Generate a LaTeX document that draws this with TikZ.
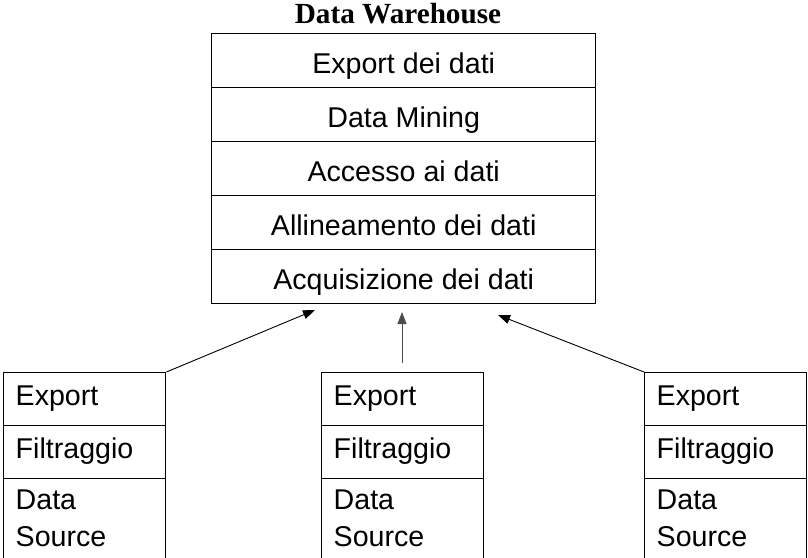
\documentclass[tikz,border=0pt]{standalone}
\usepackage{fontspec}
\setmainfont{Liberation Serif}
\setsansfont{Liberation Sans}
\usetikzlibrary{arrows.meta}
\tikzset{
  boxfont/.style={font=\sffamily\fontsize{28.6}{36.4}\selectfont},
  layer/.style={draw, line width=1.4pt, minimum width=384pt, minimum height=54pt,
    inner sep=0pt, text height=26pt, text depth=0pt, boxfont, anchor=north west},
  srcrow/.style={draw, line width=1.4pt, text width=138pt, inner xsep=12pt, inner ysep=0pt,
    minimum height=53pt, text height=13pt, text depth=0pt, align=left, boxfont, anchor=north west},
  srclast/.style={srcrow, minimum height=88pt, text height=10pt, text depth=36pt},
  feed/.style={line width=0.9pt, -{Triangle[length=12pt,width=9pt]}}
}
\begin{document}
\begin{tikzpicture}[x=1pt,y=-1pt]
\useasboundingbox (0,0) rectangle (808,557);
\clip (0,0) rectangle (808,557);
% title
\node (title) at (398,23) [anchor=base, font=\bfseries\fontsize{29.2}{33}\selectfont] {Data Warehouse};
% warehouse layers, top to bottom
\node[layer] (w1) at (211,33)  {Export dei dati};
\node[layer] (w2) at (211,87)  {Data Mining};
\node[layer] (w3) at (211,141) {Accesso ai dati};
\node[layer] (w4) at (211,195) {Allineamento dei dati};
\node[layer] (w5) at (211,249) {Acquisizione dei dati};
% three source stacks
\foreach \n/\x in {a/3, b/321, c/644}{
  \node[srcrow] (\n1) at (\x,372) {Export};
  \node[srcrow] (\n2) at (\x,425) {Filtraggio};
  \node[srclast] (\n3) at (\x,478) {Data\\Source};
}
% arrow ends below the warehouse
\coordinate (ta) at (315,310);
\coordinate (tb) at (402,312);
\coordinate (tc) at (498,315);
\coordinate (sb) at (402,363);
\draw[feed] (a1.north east) -- (ta);
\draw[feed, black!70] (sb) -- (tb);
\draw[feed] (c1.north west) -- (tc);
\end{tikzpicture}
\end{document}
